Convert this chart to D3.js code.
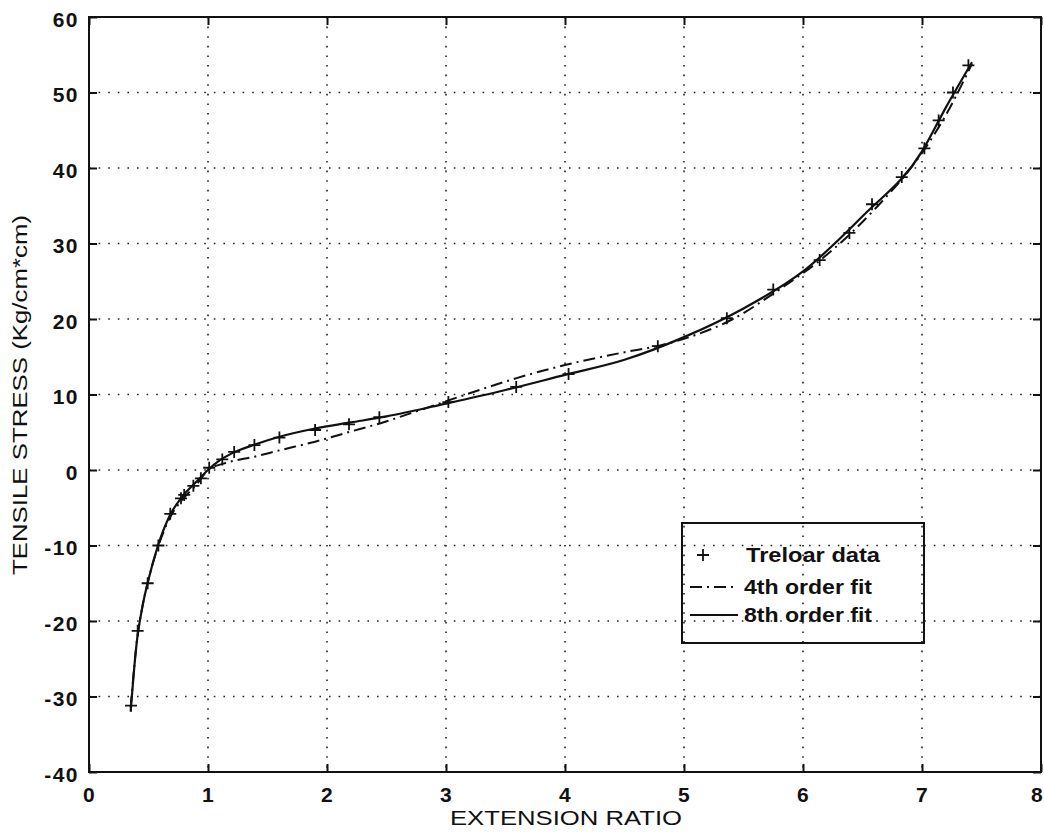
<!DOCTYPE html>
<html>
<head>
<meta charset="utf-8">
<script src="https://cdn.jsdelivr.net/npm/d3@7"></script>
<style>
  body { margin: 0; background: #fff; }
  svg text { font-family: "Liberation Sans", Arial, sans-serif; fill: #111; }
</style>
</head>
<body>
<div id="chart"></div>
<script>
// Treloar rubber data
var dataX = [0.353, 0.409, 0.493, 0.583, 0.683, 0.773, 0.80, 0.877, 0.94, 1.01, 1.12, 1.22, 1.39,
  1.60, 1.90, 2.185, 2.44, 3.02, 3.59, 4.03, 4.78, 5.36, 5.75, 6.14, 6.39, 6.58, 6.83, 7.02, 7.14, 7.26, 7.39];
var dataY = [-31.2, -21.3, -15.0, -10.0, -5.8, -3.75, -3.3, -2.1, -1.1, 0.3, 1.4, 2.4, 3.3,
  4.3, 5.3, 6.05, 7.0, 9.0, 11.0, 12.7, 16.4, 20.1, 23.9, 27.8, 31.4, 35.2, 38.8, 42.6, 46.3, 50.0, 53.6];

// 4th order fit (dash-dot)
var fit4X = [0.35, 0.40, 0.45, 0.50, 0.58, 0.68, 0.78, 0.90, 1.0, 1.13, 1.4, 1.6, 1.9, 2.2, 2.45, 2.7,
  3.0, 3.3, 3.6, 4.0, 4.5, 4.8, 5.1, 5.4, 5.8, 6.2, 6.6, 7.0, 7.2, 7.42];
var fit4Y = [-31.5, -23.0, -18.0, -14.5, -10.2, -6.3, -4.0, -2.0, 0.0, 0.85, 1.8, 2.6, 3.75, 5.1, 6.2, 7.5,
  9.1, 10.7, 12.2, 13.9, 15.6, 16.5, 17.9, 19.9, 23.9, 28.5, 34.5, 42.0, 47.0, 53.8];

// 8th order fit (solid)
var fit8X = [0.35, 0.40, 0.45, 0.50, 0.58, 0.68, 0.78, 0.90, 1.0, 1.1, 1.2, 1.4, 1.6, 1.9, 2.2, 2.5,
  3.0, 3.5, 4.0, 4.5, 5.0, 5.5, 6.0, 6.5, 7.0, 7.2, 7.42];
var fit8Y = [-32.0, -23.0, -18.0, -14.5, -10.0, -6.0, -3.6, -1.6, 0.0, 1.3, 2.2, 3.4, 4.4, 5.5, 6.3, 7.1,
  8.8, 10.6, 12.6, 14.6, 17.6, 21.4, 26.3, 33.6, 42.2, 48.0, 54.0];

var xTicks = [0, 1, 2, 3, 4, 5, 6, 7, 8];
var yTicks = [-40, -30, -20, -10, 0, 10, 20, 30, 40, 50, 60];
var legendLabels = ["Treloar data", "4th order fit", "8th order fit"];

var W = 1044, H = 832;
var plotL = 89, plotR = 1041, plotT = 17, plotB = 772;

var svg = d3.select("#chart").append("svg")
  .attr("width", W)
  .attr("height", H);

var x = d3.scaleLinear().domain([0, 8]).range([plotL, plotR]);
var y = d3.scaleLinear().domain([-40, 60]).range([plotB, plotT]);

// dotted grid
var grid = svg.append("g")
  .attr("stroke", "#222")
  .attr("stroke-width", 1.6)
  .attr("stroke-dasharray", "1.6,8");
grid.selectAll(".vg")
  .data(xTicks.slice(1, -1))
  .enter().append("line")
  .attr("x1", function (d) { return x(d); })
  .attr("x2", function (d) { return x(d); })
  .attr("y1", plotT)
  .attr("y2", plotB);
grid.selectAll(".hg")
  .data(yTicks.slice(1, -1))
  .enter().append("line")
  .attr("y1", function (d) { return y(d); })
  .attr("y2", function (d) { return y(d); })
  .attr("x1", plotL)
  .attr("x2", plotR);

// axes with inward ticks
var tickFont = function (g) {
  g.select(".domain").remove();
  g.selectAll(".tick line").attr("stroke", "#111").attr("stroke-width", 2);
  g.selectAll("text")
    .attr("fill", "#111")
    .style("font-size", "21px")
    .style("font-weight", "bold")
    .style("letter-spacing", "1.5px");
};

var xAxisG = svg.append("g")
  .attr("transform", "translate(0," + plotB + ")")
  .call(d3.axisBottom(x).tickValues(xTicks).tickFormat(d3.format("d"))
    .tickSize(-8).tickSizeOuter(0).tickPadding(15))
  .call(tickFont);
// last label sits against the page edge, as in the figure
xAxisG.selectAll("text").filter(function (d) { return d === 8; }).attr("dx", "-4");

svg.append("g")
  .attr("transform", "translate(" + plotL + ",0)")
  .call(d3.axisLeft(y).tickValues(yTicks).tickFormat(function (d) { return d < 0 ? "-" + (-d) : d; })
    .tickSize(-8).tickSizeOuter(0).tickPadding(10))
  .call(tickFont)
  .selectAll("text").attr("dy", "0.45em");

svg.append("g")
  .attr("transform", "translate(0," + plotT + ")")
  .call(d3.axisTop(x).tickValues(xTicks).tickFormat("").tickSize(-8).tickSizeOuter(0))
  .call(tickFont);

svg.append("g")
  .attr("transform", "translate(" + plotR + ",0)")
  .call(d3.axisRight(y).tickValues(yTicks).tickFormat("").tickSize(-8).tickSizeOuter(0))
  .call(tickFont);

// frame
svg.append("rect")
  .attr("x", plotL)
  .attr("y", plotT)
  .attr("width", plotR - plotL)
  .attr("height", plotB - plotT)
  .attr("fill", "none")
  .attr("stroke", "#111")
  .attr("stroke-width", 2);

// curves
var line = d3.line()
  .x(function (d) { return x(d[0]); })
  .y(function (d) { return y(d[1]); })
  .curve(d3.curveMonotoneX);

svg.append("path")
  .datum(d3.zip(fit4X, fit4Y))
  .attr("d", line)
  .attr("fill", "none")
  .attr("stroke", "#111")
  .attr("stroke-width", 2)
  .attr("stroke-dasharray", "12,5,2,5");

svg.append("path")
  .datum(d3.zip(fit8X, fit8Y))
  .attr("d", line)
  .attr("fill", "none")
  .attr("stroke", "#111")
  .attr("stroke-width", 2.2);

// plus markers
svg.append("g")
  .selectAll("path")
  .data(d3.zip(dataX, dataY))
  .enter().append("path")
  .attr("d", "M-6,0H6M0,-6V6")
  .attr("transform", function (d) { return "translate(" + x(d[0]) + "," + y(d[1]) + ")"; })
  .attr("stroke", "#111")
  .attr("stroke-width", 1.8)
  .attr("fill", "none");

// axis titles
svg.append("text")
  .attr("x", (plotL + plotR) / 2 + 1)
  .attr("y", 825)
  .attr("text-anchor", "middle")
  .attr("textLength", 232)
  .attr("lengthAdjust", "spacingAndGlyphs")
  .style("font-size", "21px")
  .text("EXTENSION RATIO");

svg.append("text")
  .attr("transform", "translate(27,395) rotate(-90)")
  .attr("text-anchor", "middle")
  .attr("textLength", 360)
  .attr("lengthAdjust", "spacingAndGlyphs")
  .style("font-size", "21px")
  .text("TENSILE STRESS (Kg/cm*cm)");

// legend
var lg = svg.append("g");
lg.append("rect")
  .attr("x", 682)
  .attr("y", 523)
  .attr("width", 242)
  .attr("height", 120)
  .attr("fill", "none")
  .attr("stroke", "#111")
  .attr("stroke-width", 2);

var rowY = [555, 587, 615];
lg.append("path")
  .attr("d", "M-6,0H6M0,-6V6")
  .attr("transform", "translate(703," + rowY[0] + ")")
  .attr("stroke", "#111")
  .attr("stroke-width", 1.8);
lg.append("line")
  .attr("x1", 690).attr("x2", 738)
  .attr("y1", rowY[1]).attr("y2", rowY[1])
  .attr("stroke", "#111").attr("stroke-width", 2)
  .attr("stroke-dasharray", "12,5,2,5");
lg.append("line")
  .attr("x1", 690).attr("x2", 738)
  .attr("y1", rowY[2]).attr("y2", rowY[2])
  .attr("stroke", "#111").attr("stroke-width", 2.2);

var lens = [134, 128, 128];
lg.selectAll(".lab")
  .data(legendLabels)
  .enter().append("text")
  .attr("x", function (d, i) { return i === 0 ? 746 : 744; })
  .attr("y", function (d, i) { return rowY[i] + 7; })
  .attr("textLength", function (d, i) { return lens[i]; })
  .attr("lengthAdjust", "spacingAndGlyphs")
  .style("font-size", "20px")
  .style("font-weight", "bold")
  .text(function (d) { return d; });
</script>
</body>
</html>
